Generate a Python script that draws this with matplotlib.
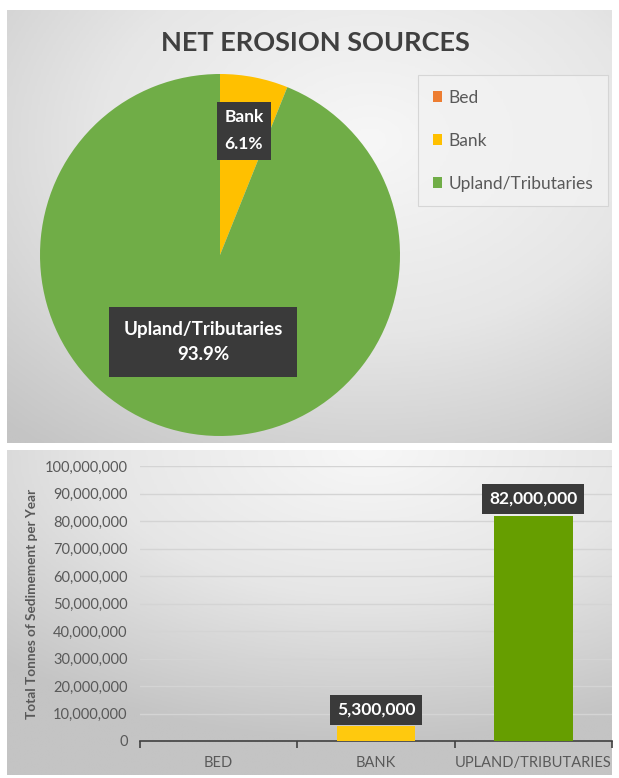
import numpy as np
import matplotlib.pyplot as plt
from matplotlib.colors import LinearSegmentedColormap
from matplotlib.ticker import FuncFormatter

# data
categories = ['Bed', 'Bank', 'Upland/Tributaries']
bar_labels = ['BED', 'BANK', 'UPLAND/TRIBUTARIES']
tonnes = [0, 5300000, 82000000]
pie_share = [0.0, 6.1, 93.9]
pie_colors = ['#ED7D31', '#FFC000', '#70AD47']
bar_colors = ['#ED7D31', '#FFC90E', '#669E00']

plt.rcParams['font.family'] = ['Lato', 'DejaVu Sans']
W, H = 619, 778
fig = plt.figure(figsize=(W / 100, H / 100), dpi=100)
fig.patch.set_facecolor('white')

def px_axes(x0, y0, x1, y1):
    # pixel box (top-left origin) -> figure axes
    return fig.add_axes([x0 / W, 1 - y1 / H, (x1 - x0) / W, (y1 - y0) / H])

gray = LinearSegmentedColormap.from_list('g', ['#f7f7f7', '#e6e6e6', '#c4c4c4'])

def gradient_panel(box, cx, cy):
    ax = px_axes(*box)
    yy, xx = np.mgrid[0:1:200j, 0:1:200j]
    r = np.sqrt((xx - cx) ** 2 + (yy - cy) ** 2)
    ax.imshow(r, cmap=gray, extent=[0, 1, 1, 0], aspect='auto', vmin=0, vmax=0.9)
    ax.axis('off')
    return ax

gradient_panel((7, 10, 612, 443), 0.6, 0.3)
gradient_panel((7, 450, 612, 775), 0.6, 0.0)

dark = '#3a3a3a'
txt = '#595959'

# ---- pie ----
fig.text(315 / W, 1 - 43 / H, 'NET EROSION SOURCES', ha='center', va='center',
         fontsize=19.5, fontweight='bold', color='#404040')

ax_pie = px_axes(40, 74, 400, 436)
wedges, _ = ax_pie.pie(pie_share, colors=pie_colors, startangle=90, counterclock=False,
                       wedgeprops=dict(linewidth=0))
ax_pie.set_xlim(-1, 1)
ax_pie.set_ylim(-1, 1)
ax_pie.set_aspect('auto')

label_r = {1: 0.7, 2: 0.49}
for i, r in label_r.items():
    w = wedges[i]
    mid = np.deg2rad((w.theta1 + w.theta2) / 2)
    ax_pie.text(r * np.cos(mid), r * np.sin(mid), f'{categories[i]}\n{pie_share[i]:.1f}%',
                ha='center', va='center', color='white', fontweight='bold',
                fontsize=12.5 if i == 1 else 13.5, linespacing=1.8 if i == 1 else 1.6,
                bbox=dict(boxstyle='square,pad=0.45' if i == 1 else 'square,pad=0.75',
                          fc=dark, ec='none'))

leg = fig.legend(wedges, categories, loc='upper left', bbox_to_anchor=(418 / W, 1 - 75 / H),
                 borderaxespad=0, frameon=True, fontsize=12.5, labelcolor=txt,
                 handlelength=0.55, handleheight=0.55, handletextpad=0.35,
                 labelspacing=1.55, borderpad=0.85, fancybox=False)
leg.get_frame().set_facecolor('#f2f2f2')
leg.get_frame().set_edgecolor('#d0d0d0')
leg.get_frame().set_linewidth(0.8)

# ---- bars ----
ax = px_axes(140, 466, 612, 741)
ax.patch.set_alpha(0)
x = np.arange(len(bar_labels))
bars = ax.bar(x, tonnes, width=0.5, color=bar_colors, zorder=3)
ax.set_xlim(-0.5, 2.5)
ax.set_ylim(0, 100000000)
ax.set_yticks(np.arange(0, 100000001, 10000000))
ax.yaxis.set_major_formatter(FuncFormatter(lambda v, p: f'{int(v):,}'))
ax.grid(axis='y', color='#d4d4d4', linewidth=1, zorder=0)
for s in ['top', 'right', 'left']:
    ax.spines[s].set_visible(False)
ax.spines['bottom'].set_color('#404040')
ax.spines['bottom'].set_linewidth(1.2)
ax.tick_params(axis='y', length=0, labelsize=10.5, labelcolor=txt, pad=9)
ax.set_xticks(x, bar_labels)
ax.set_xticks([-0.5, 0.5, 1.5, 2.5], minor=True)
ax.tick_params(axis='x', which='major', length=0, labelsize=10.5, labelcolor=txt, pad=11)
ax.tick_params(axis='x', which='minor', length=5, color='#404040', width=1.2)
ax.set_ylabel('Total Tonnes of Sedimement per Year', fontsize=9.8, fontweight='bold',
              color=txt, labelpad=5)

for b, v in zip(bars, tonnes):
    if v > 0:
        ax.annotate(f'{v:,}', (b.get_x() + b.get_width() / 2, v), xytext=(0, 12),
                    textcoords='offset points', ha='center', va='center', color='white',
                    fontsize=12.5, fontweight='bold',
                    bbox=dict(boxstyle='square,pad=0.4', fc=dark, ec='none'), zorder=5)

fig.savefig('out.png', dpi=100)
